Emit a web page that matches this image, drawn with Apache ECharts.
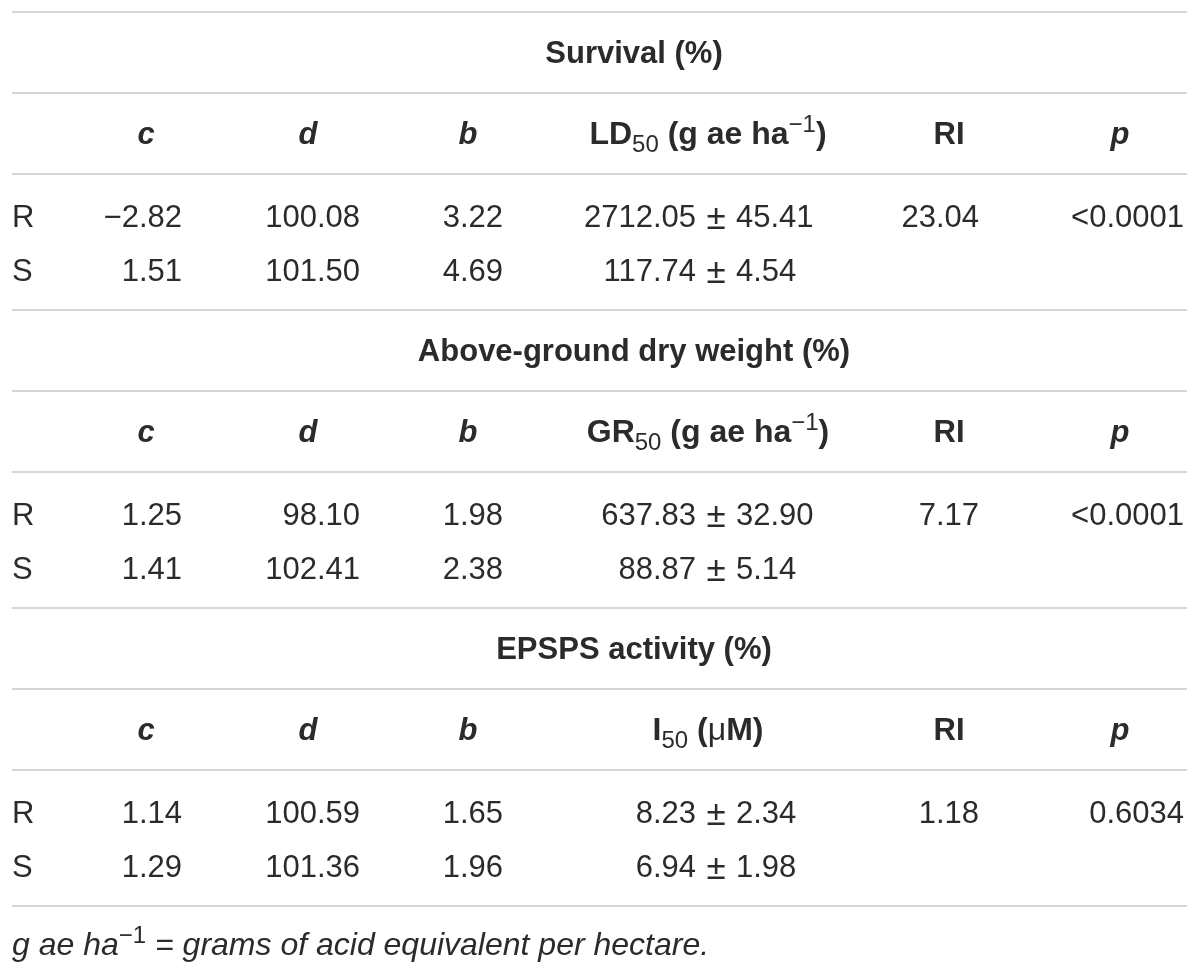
<!DOCTYPE html>
<html>
<head>
<meta charset="utf-8">
<script src="https://cdn.jsdelivr.net/npm/echarts@6/dist/echarts.min.js"></script>
<style>
  html, body { margin: 0; background: #fff; }
  #table { width: 1200px; height: 975px; }
</style>
</head>
<body>
<div id="table"></div>
<script>
// table content
const sectionTitles = ['Survival (%)', 'Above-ground dry weight (%)', 'EPSPS activity (%)'];
const estimateHeaders = [
  '{b|LD}{sub|50}{b| (g ae ha}{sup|−1}{b|)}',
  '{b|GR}{sub|50}{b| (g ae ha}{sup|−1}{b|)}',
  '{b|I}{sub|50}{b| (}{mu|μ}{b|M)}'
];
const colHeaders = ['c', 'd', 'b', '', 'RI', 'p'];
const rowLabels = ['R', 'S'];
const cValues = [['−2.82', '1.51'], ['1.25', '1.41'], ['1.14', '1.29']];
const dValues = [['100.08', '101.50'], ['98.10', '102.41'], ['100.59', '101.36']];
const bValues = [['3.22', '4.69'], ['1.98', '2.38'], ['1.65', '1.96']];
const estMeans = [['2712.05', '117.74'], ['637.83', '88.87'], ['8.23', '6.94']];
const estErrors = [['45.41', '4.54'], ['32.90', '5.14'], ['2.34', '1.98']];
const riValues = ['23.04', '7.17', '1.18'];
const pValues = ['<0.0001', '<0.0001', '0.6034'];
const footnote = '{i|g ae ha}{sup|−1}{i| = grams of acid equivalent per hectare.}';

// layout
const FONT = '"Liberation Sans", Helvetica, Arial, sans-serif';
const TXT = '#2b2b2b';
const RULE = '#d6d6d6';
const left = 12, right = 1187;
const top0 = 12, sectionH = 298;
const colCenter = [146, 308, 468, 708, 949, 1120];
const colRight = [182, 360, 503, 0, 979, 1184];
const pmX = 716, pmGap = 20;
const fs = 31;

const rich = {
  b: { fontFamily: FONT, fontWeight: 'bold', fontSize: 32, lineHeight: 44, color: TXT },
  mu: { fontFamily: FONT, fontSize: 32, lineHeight: 44, color: TXT },
  sub: { fontFamily: FONT, fontSize: 24, lineHeight: 32, verticalAlign: 'bottom', color: TXT },
  sup: { fontFamily: FONT, fontSize: 24, lineHeight: 32, verticalAlign: 'top', color: TXT },
  i: { fontFamily: FONT, fontStyle: 'italic', fontSize: 32, lineHeight: 44, color: TXT }
};

function text(x, y, str, align, extra) {
  return {
    type: 'text', x: x, y: y, silent: true,
    style: Object.assign({
      text: str, align: align, verticalAlign: 'middle',
      fontFamily: FONT, fontSize: fs, fill: TXT
    }, extra || {})
  };
}
function rule(y) {
  return {
    type: 'line', silent: true,
    shape: { x1: left, y1: y, x2: right, y2: y },
    style: { stroke: RULE, lineWidth: 2 }
  };
}

const elements = [];
sectionTitles.forEach(function (title, s) {
  const t = top0 + s * sectionH;
  elements.push(rule(t), rule(t + 81), rule(t + 162));
  elements.push(text(634, t + 42, title, 'center', { fontWeight: 'bold' }));

  const hy = t + 123;
  colHeaders.forEach(function (h, c) {
    if (c === 3) {
      elements.push(text(colCenter[c], hy, estimateHeaders[s], 'center', { rich: rich }));
    } else {
      const italic = h !== 'RI';
      elements.push(text(colCenter[c], hy, h, 'center', {
        fontWeight: 'bold', fontStyle: italic ? 'italic' : 'normal'
      }));
    }
  });

  rowLabels.forEach(function (lab, r) {
    const y = t + 206 + r * 54;
    elements.push(text(left, y, lab, 'left'));
    elements.push(text(colRight[0], y, cValues[s][r], 'right'));
    elements.push(text(colRight[1], y, dValues[s][r], 'right'));
    elements.push(text(colRight[2], y, bValues[s][r], 'right'));
    elements.push(text(pmX - pmGap, y, estMeans[s][r], 'right'));
    elements.push(text(pmX, y + 1, '±', 'center', { fontSize: 35 }));
    elements.push(text(pmX + pmGap, y, estErrors[s][r], 'left'));
    if (r === 0) {
      elements.push(text(colRight[4], y, riValues[s], 'right'));
      elements.push(text(colRight[5], y, pValues[s], 'right'));
    }
  });
});
elements.push(rule(top0 + 3 * sectionH));
elements.push(text(left, top0 + 3 * sectionH + 40, footnote, 'left', { rich: rich }));

const chart = echarts.init(document.getElementById('table'));
chart.setOption({
  backgroundColor: '#fff',
  animation: false,
  graphic: { elements: elements }
});
</script>
</body>
</html>
